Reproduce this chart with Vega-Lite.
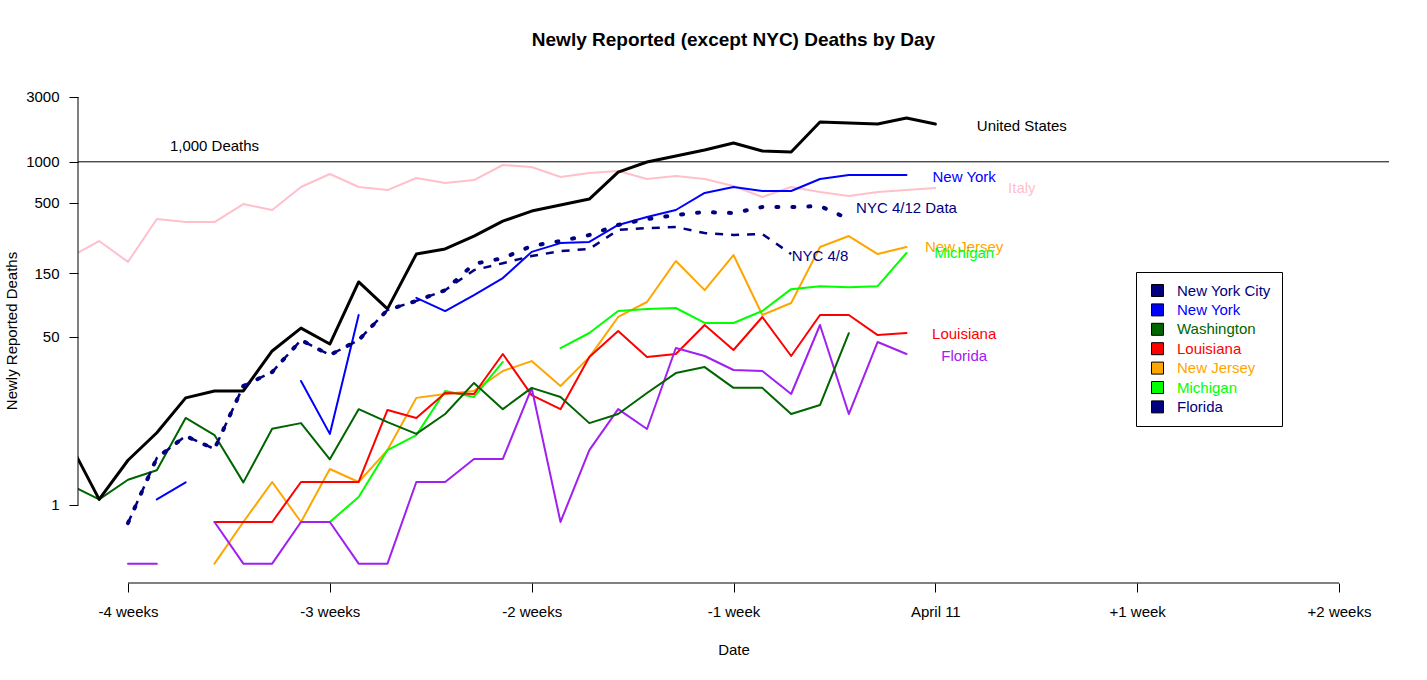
{
  "$schema": "https://vega.github.io/schema/vega-lite/v6.json",
  "width": 1311,
  "height": 505,
  "autosize": {"type": "none"},
  "padding": {"left": 78, "top": 78, "right": 38, "bottom": 97},
  "background": "white",
  "config": {"view": {"stroke": null}, "font": "Liberation Sans"},
  "title": {"text": "Newly Reported (except NYC) Deaths by Day", "fontSize": 19, "fontWeight": "bold", "font": "Liberation Sans", "color": "black", "offset": 28, "anchor": "middle", "frame": "group"},
  "datasets": {
    "series": [
      {"s": "United States", "g": "a", "d": -30, "v": 6.4},
      {"s": "United States", "g": "a", "d": -29, "v": 1.3},
      {"s": "United States", "g": "a", "d": -28, "v": 4.4},
      {"s": "United States", "g": "a", "d": -27, "v": 8.2},
      {"s": "United States", "g": "a", "d": -26, "v": 16.4},
      {"s": "United States", "g": "a", "d": -25, "v": 18.7},
      {"s": "United States", "g": "a", "d": -24, "v": 18.7},
      {"s": "United States", "g": "a", "d": -23, "v": 38.7},
      {"s": "United States", "g": "a", "d": -22, "v": 58},
      {"s": "United States", "g": "a", "d": -21, "v": 43.8},
      {"s": "United States", "g": "a", "d": -20, "v": 129},
      {"s": "United States", "g": "a", "d": -19, "v": 81},
      {"s": "United States", "g": "a", "d": -18, "v": 208},
      {"s": "United States", "g": "a", "d": -17, "v": 227},
      {"s": "United States", "g": "a", "d": -16, "v": 283},
      {"s": "United States", "g": "a", "d": -15, "v": 365},
      {"s": "United States", "g": "a", "d": -14, "v": 433},
      {"s": "United States", "g": "a", "d": -13, "v": 480},
      {"s": "United States", "g": "a", "d": -12, "v": 531},
      {"s": "United States", "g": "a", "d": -11, "v": 840},
      {"s": "United States", "g": "a", "d": -10, "v": 996},
      {"s": "United States", "g": "a", "d": -9, "v": 1103},
      {"s": "United States", "g": "a", "d": -8, "v": 1221},
      {"s": "United States", "g": "a", "d": -7, "v": 1375},
      {"s": "United States", "g": "a", "d": -6, "v": 1201},
      {"s": "United States", "g": "a", "d": -5, "v": 1181},
      {"s": "United States", "g": "a", "d": -4, "v": 1963},
      {"s": "United States", "g": "a", "d": -3, "v": 1930},
      {"s": "United States", "g": "a", "d": -2, "v": 1896},
      {"s": "United States", "g": "a", "d": -1, "v": 2101},
      {"s": "United States", "g": "a", "d": 0, "v": 1896},
      {"s": "Italy", "g": "a", "d": -30, "v": 198},
      {"s": "Italy", "g": "a", "d": -29, "v": 260},
      {"s": "Italy", "g": "a", "d": -28, "v": 182},
      {"s": "Italy", "g": "a", "d": -27, "v": 378},
      {"s": "Italy", "g": "a", "d": -26, "v": 359},
      {"s": "Italy", "g": "a", "d": -25, "v": 359},
      {"s": "Italy", "g": "a", "d": -24, "v": 488},
      {"s": "Italy", "g": "a", "d": -23, "v": 441},
      {"s": "Italy", "g": "a", "d": -22, "v": 652},
      {"s": "Italy", "g": "a", "d": -21, "v": 813},
      {"s": "Italy", "g": "a", "d": -20, "v": 652},
      {"s": "Italy", "g": "a", "d": -19, "v": 619},
      {"s": "Italy", "g": "a", "d": -18, "v": 760},
      {"s": "Italy", "g": "a", "d": -17, "v": 698},
      {"s": "Italy", "g": "a", "d": -16, "v": 734},
      {"s": "Italy", "g": "a", "d": -15, "v": 947},
      {"s": "Italy", "g": "a", "d": -14, "v": 915},
      {"s": "Italy", "g": "a", "d": -13, "v": 772},
      {"s": "Italy", "g": "a", "d": -12, "v": 827},
      {"s": "Italy", "g": "a", "d": -11, "v": 855},
      {"s": "Italy", "g": "a", "d": -10, "v": 747},
      {"s": "Italy", "g": "a", "d": -9, "v": 786},
      {"s": "Italy", "g": "a", "d": -8, "v": 747},
      {"s": "Italy", "g": "a", "d": -7, "v": 663},
      {"s": "Italy", "g": "a", "d": -6, "v": 550},
      {"s": "Italy", "g": "a", "d": -5, "v": 652},
      {"s": "Italy", "g": "a", "d": -4, "v": 599},
      {"s": "Italy", "g": "a", "d": -3, "v": 559},
      {"s": "Italy", "g": "a", "d": -2, "v": 599},
      {"s": "Italy", "g": "a", "d": -1, "v": 619},
      {"s": "Italy", "g": "a", "d": 0, "v": 641},
      {"s": "New York", "g": "a", "d": -27, "v": 1.3},
      {"s": "New York", "g": "a", "d": -26, "v": 2.4},
      {"s": "New York", "g": "b", "d": -22, "v": 22.5},
      {"s": "New York", "g": "b", "d": -21, "v": 8},
      {"s": "New York", "g": "b", "d": -20, "v": 73},
      {"s": "New York", "g": "c", "d": -18, "v": 98},
      {"s": "New York", "g": "c", "d": -17, "v": 78},
      {"s": "New York", "g": "c", "d": -16, "v": 103},
      {"s": "New York", "g": "c", "d": -15, "v": 138},
      {"s": "New York", "g": "c", "d": -14, "v": 216},
      {"s": "New York", "g": "c", "d": -13, "v": 251},
      {"s": "New York", "g": "c", "d": -12, "v": 256},
      {"s": "New York", "g": "c", "d": -11, "v": 342},
      {"s": "New York", "g": "c", "d": -10, "v": 391},
      {"s": "New York", "g": "c", "d": -9, "v": 441},
      {"s": "New York", "g": "c", "d": -8, "v": 589},
      {"s": "New York", "g": "c", "d": -7, "v": 652},
      {"s": "New York", "g": "c", "d": -6, "v": 609},
      {"s": "New York", "g": "c", "d": -5, "v": 609},
      {"s": "New York", "g": "c", "d": -4, "v": 747},
      {"s": "New York", "g": "c", "d": -3, "v": 799},
      {"s": "New York", "g": "c", "d": -2, "v": 799},
      {"s": "New York", "g": "c", "d": -1, "v": 799},
      {"s": "NYC 4/12 Data", "g": "a", "d": -28, "v": 0.21},
      {"s": "NYC 4/12 Data", "g": "a", "d": -27, "v": 4.65},
      {"s": "NYC 4/12 Data", "g": "a", "d": -26, "v": 7.65},
      {"s": "NYC 4/12 Data", "g": "a", "d": -25, "v": 5.74},
      {"s": "NYC 4/12 Data", "g": "a", "d": -24, "v": 20.5},
      {"s": "NYC 4/12 Data", "g": "a", "d": -23, "v": 26.5},
      {"s": "NYC 4/12 Data", "g": "a", "d": -22, "v": 47},
      {"s": "NYC 4/12 Data", "g": "a", "d": -21, "v": 36},
      {"s": "NYC 4/12 Data", "g": "a", "d": -20, "v": 47},
      {"s": "NYC 4/12 Data", "g": "a", "d": -19, "v": 79.5},
      {"s": "NYC 4/12 Data", "g": "a", "d": -18, "v": 93},
      {"s": "NYC 4/12 Data", "g": "a", "d": -17, "v": 112},
      {"s": "NYC 4/12 Data", "g": "a", "d": -16, "v": 176},
      {"s": "NYC 4/12 Data", "g": "a", "d": -15, "v": 194},
      {"s": "NYC 4/12 Data", "g": "a", "d": -14, "v": 239},
      {"s": "NYC 4/12 Data", "g": "a", "d": -13, "v": 260},
      {"s": "NYC 4/12 Data", "g": "a", "d": -12, "v": 288},
      {"s": "NYC 4/12 Data", "g": "a", "d": -11, "v": 342},
      {"s": "NYC 4/12 Data", "g": "a", "d": -10, "v": 378},
      {"s": "NYC 4/12 Data", "g": "a", "d": -9, "v": 405},
      {"s": "NYC 4/12 Data", "g": "a", "d": -8, "v": 426},
      {"s": "NYC 4/12 Data", "g": "a", "d": -7, "v": 419},
      {"s": "NYC 4/12 Data", "g": "a", "d": -6, "v": 464},
      {"s": "NYC 4/12 Data", "g": "a", "d": -5, "v": 464},
      {"s": "NYC 4/12 Data", "g": "a", "d": -4, "v": 472},
      {"s": "NYC 4/12 Data", "g": "a", "d": -3, "v": 378},
      {"s": "NYC 4/8", "g": "a", "d": -28, "v": 0.21},
      {"s": "NYC 4/8", "g": "a", "d": -27, "v": 4.65},
      {"s": "NYC 4/8", "g": "a", "d": -26, "v": 7.65},
      {"s": "NYC 4/8", "g": "a", "d": -25, "v": 5.74},
      {"s": "NYC 4/8", "g": "a", "d": -24, "v": 20.5},
      {"s": "NYC 4/8", "g": "a", "d": -23, "v": 26.5},
      {"s": "NYC 4/8", "g": "a", "d": -22, "v": 47},
      {"s": "NYC 4/8", "g": "a", "d": -21, "v": 36},
      {"s": "NYC 4/8", "g": "a", "d": -20, "v": 47},
      {"s": "NYC 4/8", "g": "a", "d": -19, "v": 79.5},
      {"s": "NYC 4/8", "g": "a", "d": -18, "v": 93},
      {"s": "NYC 4/8", "g": "a", "d": -17, "v": 112},
      {"s": "NYC 4/8", "g": "a", "d": -16, "v": 158},
      {"s": "NYC 4/8", "g": "a", "d": -15, "v": 178},
      {"s": "NYC 4/8", "g": "a", "d": -14, "v": 201},
      {"s": "NYC 4/8", "g": "a", "d": -13, "v": 219},
      {"s": "NYC 4/8", "g": "a", "d": -12, "v": 227},
      {"s": "NYC 4/8", "g": "a", "d": -11, "v": 314},
      {"s": "NYC 4/8", "g": "a", "d": -10, "v": 324},
      {"s": "NYC 4/8", "g": "a", "d": -9, "v": 330},
      {"s": "NYC 4/8", "g": "a", "d": -8, "v": 298},
      {"s": "NYC 4/8", "g": "a", "d": -7, "v": 288},
      {"s": "NYC 4/8", "g": "a", "d": -6, "v": 293},
      {"s": "NYC 4/8", "g": "a", "d": -5, "v": 208},
      {"s": "New Jersey", "g": "a", "d": -25, "v": -1.6},
      {"s": "New Jersey", "g": "a", "d": -24, "v": 0.25},
      {"s": "New Jersey", "g": "a", "d": -23, "v": 2.43},
      {"s": "New Jersey", "g": "a", "d": -22, "v": 0.25},
      {"s": "New Jersey", "g": "a", "d": -21, "v": 3.52},
      {"s": "New Jersey", "g": "a", "d": -20, "v": 2.43},
      {"s": "New Jersey", "g": "a", "d": -19, "v": 5.6},
      {"s": "New Jersey", "g": "a", "d": -18, "v": 16.4},
      {"s": "New Jersey", "g": "a", "d": -17, "v": 17.65},
      {"s": "New Jersey", "g": "a", "d": -16, "v": 18.7},
      {"s": "New Jersey", "g": "a", "d": -15, "v": 27},
      {"s": "New Jersey", "g": "a", "d": -14, "v": 32.3},
      {"s": "New Jersey", "g": "a", "d": -13, "v": 20.5},
      {"s": "New Jersey", "g": "a", "d": -12, "v": 34.7},
      {"s": "New Jersey", "g": "a", "d": -11, "v": 70.4},
      {"s": "New Jersey", "g": "a", "d": -10, "v": 91.3},
      {"s": "New Jersey", "g": "a", "d": -9, "v": 184.7},
      {"s": "New Jersey", "g": "a", "d": -8, "v": 112},
      {"s": "New Jersey", "g": "a", "d": -7, "v": 204.7},
      {"s": "New Jersey", "g": "a", "d": -6, "v": 72.9},
      {"s": "New Jersey", "g": "a", "d": -5, "v": 89.7},
      {"s": "New Jersey", "g": "a", "d": -4, "v": 234.7},
      {"s": "New Jersey", "g": "a", "d": -3, "v": 283},
      {"s": "New Jersey", "g": "a", "d": -2, "v": 208},
      {"s": "New Jersey", "g": "a", "d": -1, "v": 234.7},
      {"s": "Michigan", "g": "a", "d": -21, "v": 0.25},
      {"s": "Michigan", "g": "a", "d": -20, "v": 1.43},
      {"s": "Michigan", "g": "a", "d": -19, "v": 5.6},
      {"s": "Michigan", "g": "a", "d": -18, "v": 7.8},
      {"s": "Michigan", "g": "a", "d": -17, "v": 18.7},
      {"s": "Michigan", "g": "a", "d": -16, "v": 16.7},
      {"s": "Michigan", "g": "a", "d": -15, "v": 31.8},
      {"s": "Michigan", "g": "b", "d": -13, "v": 40.8},
      {"s": "Michigan", "g": "b", "d": -12, "v": 53.2},
      {"s": "Michigan", "g": "b", "d": -11, "v": 78.1},
      {"s": "Michigan", "g": "b", "d": -10, "v": 80.9},
      {"s": "Michigan", "g": "b", "d": -9, "v": 82.3},
      {"s": "Michigan", "g": "b", "d": -8, "v": 63.4},
      {"s": "Michigan", "g": "b", "d": -7, "v": 63.4},
      {"s": "Michigan", "g": "b", "d": -6, "v": 78.1},
      {"s": "Michigan", "g": "b", "d": -5, "v": 114},
      {"s": "Michigan", "g": "b", "d": -4, "v": 120},
      {"s": "Michigan", "g": "b", "d": -3, "v": 118},
      {"s": "Michigan", "g": "b", "d": -2, "v": 120},
      {"s": "Michigan", "g": "b", "d": -1, "v": 212},
      {"s": "Louisiana", "g": "a", "d": -25, "v": 0.25},
      {"s": "Louisiana", "g": "a", "d": -24, "v": 0.25},
      {"s": "Louisiana", "g": "a", "d": -23, "v": 0.25},
      {"s": "Louisiana", "g": "a", "d": -22, "v": 2.43},
      {"s": "Louisiana", "g": "a", "d": -21, "v": 2.43},
      {"s": "Louisiana", "g": "a", "d": -20, "v": 2.43},
      {"s": "Louisiana", "g": "a", "d": -19, "v": 13},
      {"s": "Louisiana", "g": "a", "d": -18, "v": 11.1},
      {"s": "Louisiana", "g": "a", "d": -17, "v": 18},
      {"s": "Louisiana", "g": "a", "d": -16, "v": 17.65},
      {"s": "Louisiana", "g": "a", "d": -15, "v": 36.7},
      {"s": "Louisiana", "g": "a", "d": -14, "v": 17.3},
      {"s": "Louisiana", "g": "a", "d": -13, "v": 13.2},
      {"s": "Louisiana", "g": "a", "d": -12, "v": 34.7},
      {"s": "Louisiana", "g": "a", "d": -11, "v": 55.1},
      {"s": "Louisiana", "g": "a", "d": -10, "v": 34.7},
      {"s": "Louisiana", "g": "a", "d": -9, "v": 36.7},
      {"s": "Louisiana", "g": "a", "d": -8, "v": 61.2},
      {"s": "Louisiana", "g": "a", "d": -7, "v": 39.4},
      {"s": "Louisiana", "g": "a", "d": -6, "v": 70.4},
      {"s": "Louisiana", "g": "a", "d": -5, "v": 35.4},
      {"s": "Louisiana", "g": "a", "d": -4, "v": 72.9},
      {"s": "Louisiana", "g": "a", "d": -3, "v": 72.9},
      {"s": "Louisiana", "g": "a", "d": -2, "v": 51.3},
      {"s": "Louisiana", "g": "a", "d": -1, "v": 53.2},
      {"s": "Florida", "g": "a", "d": -28, "v": -1.6},
      {"s": "Florida", "g": "a", "d": -27, "v": -1.6},
      {"s": "Florida", "g": "b", "d": -25, "v": 0.25},
      {"s": "Florida", "g": "b", "d": -24, "v": -1.6},
      {"s": "Florida", "g": "b", "d": -23, "v": -1.6},
      {"s": "Florida", "g": "b", "d": -22, "v": 0.25},
      {"s": "Florida", "g": "b", "d": -21, "v": 0.25},
      {"s": "Florida", "g": "b", "d": -20, "v": -1.6},
      {"s": "Florida", "g": "b", "d": -19, "v": -1.6},
      {"s": "Florida", "g": "b", "d": -18, "v": 2.43},
      {"s": "Florida", "g": "b", "d": -17, "v": 2.43},
      {"s": "Florida", "g": "b", "d": -16, "v": 4.54},
      {"s": "Florida", "g": "b", "d": -15, "v": 4.54},
      {"s": "Florida", "g": "b", "d": -14, "v": 19.75},
      {"s": "Florida", "g": "b", "d": -13, "v": 0.25},
      {"s": "Florida", "g": "b", "d": -12, "v": 5.6},
      {"s": "Florida", "g": "b", "d": -11, "v": 13.2},
      {"s": "Florida", "g": "b", "d": -10, "v": 8.86},
      {"s": "Florida", "g": "b", "d": -9, "v": 40.8},
      {"s": "Florida", "g": "b", "d": -8, "v": 35.4},
      {"s": "Florida", "g": "b", "d": -7, "v": 27.5},
      {"s": "Florida", "g": "b", "d": -6, "v": 27},
      {"s": "Florida", "g": "b", "d": -5, "v": 17.65},
      {"s": "Florida", "g": "b", "d": -4, "v": 61.2},
      {"s": "Florida", "g": "b", "d": -3, "v": 12},
      {"s": "Florida", "g": "b", "d": -2, "v": 45.4},
      {"s": "Florida", "g": "b", "d": -1, "v": 36.7},
      {"s": "Washington", "g": "a", "d": -30, "v": 2.2},
      {"s": "Washington", "g": "a", "d": -29, "v": 1.3},
      {"s": "Washington", "g": "a", "d": -28, "v": 2.6},
      {"s": "Washington", "g": "a", "d": -27, "v": 3.4},
      {"s": "Washington", "g": "a", "d": -26, "v": 11.1},
      {"s": "Washington", "g": "a", "d": -25, "v": 7.8},
      {"s": "Washington", "g": "a", "d": -24, "v": 2.4},
      {"s": "Washington", "g": "a", "d": -23, "v": 8.9},
      {"s": "Washington", "g": "a", "d": -22, "v": 10},
      {"s": "Washington", "g": "a", "d": -21, "v": 4.5},
      {"s": "Washington", "g": "a", "d": -20, "v": 13.2},
      {"s": "Washington", "g": "a", "d": -19, "v": 10.2},
      {"s": "Washington", "g": "a", "d": -18, "v": 8},
      {"s": "Washington", "g": "a", "d": -17, "v": 12},
      {"s": "Washington", "g": "a", "d": -16, "v": 21.7},
      {"s": "Washington", "g": "a", "d": -15, "v": 13.2},
      {"s": "Washington", "g": "a", "d": -14, "v": 19.8},
      {"s": "Washington", "g": "a", "d": -13, "v": 16.7},
      {"s": "Washington", "g": "a", "d": -12, "v": 10},
      {"s": "Washington", "g": "a", "d": -11, "v": 12},
      {"s": "Washington", "g": "a", "d": -10, "v": 18},
      {"s": "Washington", "g": "a", "d": -9, "v": 26},
      {"s": "Washington", "g": "a", "d": -8, "v": 29},
      {"s": "Washington", "g": "a", "d": -7, "v": 19.8},
      {"s": "Washington", "g": "a", "d": -6, "v": 19.8},
      {"s": "Washington", "g": "a", "d": -5, "v": 12},
      {"s": "Washington", "g": "a", "d": -4, "v": 14.3},
      {"s": "Washington", "g": "a", "d": -3, "v": 53}
    ],
    "labels": [
      {"s": "United States", "d": 3, "v": 1834},
      {"s": "New York", "d": 1, "v": 772},
      {"s": "Italy", "d": 3, "v": 641},
      {"s": "NYC 4/12 Data", "d": -1, "v": 456},
      {"s": "NYC 4/8", "d": -4, "v": 201},
      {"s": "New Jersey", "d": 1, "v": 235},
      {"s": "Michigan", "d": 1, "v": 212},
      {"s": "Louisiana", "d": 1, "v": 52.3},
      {"s": "Florida", "d": 1, "v": 35.4},
      {"s": "1,000 Deaths", "d": -25, "v": 1306}
    ],
    "legend": [
      {"n": "New York City"},
      {"n": "New York"},
      {"n": "Washington"},
      {"n": "Louisiana"},
      {"n": "New Jersey"},
      {"n": "Michigan"},
      {"n": "Florida"}
    ],
    "one": [{"k": 1}]
  },
  "layer": [
    {
      "data": {"name": "series"},
      "transform": [{"filter": {"field": "s", "oneOf": ["Italy", "New York", "New Jersey", "Michigan", "Louisiana", "Florida", "Washington"]}}],
      "mark": {"type": "line", "strokeWidth": 2, "clip": true, "strokeJoin": "round", "strokeCap": "round"},
      "encoding": {
        "x": {"field": "d", "type": "quantitative", "scale": {"domain": [-29.734, 15.734], "nice": false, "zero": false},
          "axis": {"values": [-28, -21, -14, -7, 0, 7, 14], "labelExpr": "datum.value == 0 ? 'April 11' : (datum.value > 0 ? '+' : '') + (datum.value / 7) + (abs(datum.value) == 7 ? ' week' : ' weeks')", "title": "Date", "domain": false, "grid": false, "ticks": true, "tickSize": 9, "tickColor": "black", "tickWidth": 1, "labelFontSize": 15, "labelFont": "Liberation Sans", "labelColor": "black", "labelPadding": 12, "labelFlush": false, "labelOverlap": false, "titleFontSize": 15, "titleFont": "Liberation Sans", "titleFontWeight": "normal", "titleColor": "black", "titlePadding": 23}},
        "y": {"field": "v", "type": "quantitative", "scale": {"type": "symlog", "constant": 2, "domain": [-2.995, 4139], "nice": false, "zero": false},
          "axis": {"values": [1, 50, 150, 500, 1000, 3000], "format": "d", "title": "Newly Reported Deaths", "domain": false, "grid": false, "tickSize": 9, "tickColor": "black", "tickWidth": 1, "labelFontSize": 15, "labelFont": "Liberation Sans", "labelColor": "black", "labelPadding": 10, "labelOverlap": false, "labelFlush": false, "titleFontSize": 15, "titleFont": "Liberation Sans", "titleFontWeight": "normal", "titleColor": "black", "titlePadding": 6}},
        "color": {"field": "s", "type": "nominal", "scale": {"domain": ["United States", "Italy", "New York", "NYC 4/12 Data", "NYC 4/8", "New Jersey", "Michigan", "Louisiana", "Florida", "Washington", "1,000 Deaths"], "range": ["#000000", "#FFC0CB", "#0000FF", "#000080", "#000080", "#FFA500", "#00FF00", "#FF0000", "#A020F0", "#006400", "#000000"]}, "legend": null},
        "detail": {"field": "g", "type": "nominal"}
      }
    },
    {
      "data": {"name": "series"},
      "transform": [{"filter": {"field": "s", "equal": "United States"}}],
      "mark": {"type": "line", "strokeWidth": 3, "clip": true, "strokeJoin": "round", "strokeCap": "round"},
      "encoding": {
        "x": {"field": "d", "type": "quantitative"},
        "y": {"field": "v", "type": "quantitative"},
        "color": {"field": "s", "type": "nominal", "legend": null}
      }
    },
    {
      "data": {"name": "series"},
      "transform": [{"filter": {"field": "s", "equal": "NYC 4/12 Data"}}],
      "mark": {"type": "line", "strokeWidth": 4, "clip": true, "strokeDash": [2, 14], "strokeCap": "round"},
      "encoding": {
        "x": {"field": "d", "type": "quantitative"},
        "y": {"field": "v", "type": "quantitative"},
        "color": {"field": "s", "type": "nominal", "legend": null}
      }
    },
    {
      "data": {"name": "series"},
      "transform": [{"filter": {"field": "s", "equal": "NYC 4/8"}}],
      "mark": {"type": "line", "strokeWidth": 2.5, "clip": true, "strokeDash": [8, 8], "strokeCap": "butt"},
      "encoding": {
        "x": {"field": "d", "type": "quantitative"},
        "y": {"field": "v", "type": "quantitative"},
        "color": {"field": "s", "type": "nominal", "legend": null}
      }
    },
    {
      "data": {"name": "labels"},
      "mark": {"type": "text", "fontSize": 15, "font": "Liberation Sans", "align": "center", "baseline": "middle"},
      "encoding": {
        "x": {"field": "d", "type": "quantitative"},
        "y": {"field": "v", "type": "quantitative"},
        "text": {"field": "s", "type": "nominal"},
        "color": {"field": "s", "type": "nominal", "legend": null}
      }
    },
    {
      "data": {"name": "one"},
      "mark": {"type": "rule", "color": "black", "strokeWidth": 1},
      "encoding": {
        "y": {"datum": 1000, "type": "quantitative"}
      }
    },
    {
      "data": {"name": "one"},
      "mark": {"type": "rule", "color": "black", "strokeWidth": 1},
      "encoding": {
        "x": {"datum": -28, "type": "quantitative"},
        "x2": {"datum": 14},
        "y": {"datum": -2.995, "type": "quantitative"}
      }
    },
    {
      "data": {"name": "one"},
      "mark": {"type": "rule", "color": "black", "strokeWidth": 1},
      "encoding": {
        "x": {"datum": -29.734, "type": "quantitative"},
        "y": {"datum": 1, "type": "quantitative"},
        "y2": {"datum": 3000}
      }
    },
    {
      "data": {"name": "legend"},
      "mark": {"type": "square", "opacity": 0},
      "encoding": {
        "x": {"datum": 0, "type": "quantitative"},
        "y": {"datum": 1, "type": "quantitative"},
        "fill": {"field": "n", "type": "nominal",
          "scale": {"domain": ["New York City", "New York", "Washington", "Louisiana", "New Jersey", "Michigan", "Florida"], "range": ["#000080", "#0000FF", "#006400", "#FF0000", "#FFA500", "#00FF00", "#000080"]},
          "legend": {"orient": "none", "legendX": 1058, "legendY": 194, "title": null, "symbolType": "square", "symbolSize": 144, "symbolStrokeColor": "black", "symbolStrokeWidth": 1, "symbolOpacity": 1, "symbolOffset": 3, "labelFontSize": 15, "labelFont": "Liberation Sans", "labelOffset": 12, "labelLimit": 300, "rowPadding": 2.4, "padding": 11, "strokeColor": "black", "fillColor": "white",
            "encode": {"labels": {"update": {"fill": {"scale": "fill", "field": "value"}}}}}
        }
      }
    }
  ]
}
